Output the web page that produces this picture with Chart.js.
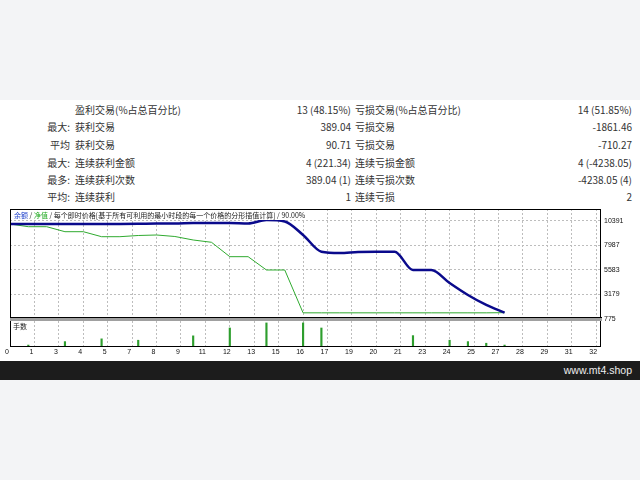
<!DOCTYPE html>
<html>
<head>
<meta charset="utf-8">
<script src="https://cdn.jsdelivr.net/npm/chart.js@4.4.0/dist/chart.umd.min.js"></script>
<style>
body { margin:0; width:640px; height:480px; background:#f3f4f6; position:relative; overflow:hidden; font-family:"Noto Sans CJK SC", "Noto Sans", sans-serif; }
#panel { position:absolute; left:0; top:100px; width:640px; height:261px; background:#fff; }
#footer { position:absolute; left:0; top:361px; width:640px; height:19px; background:#1c1c1c; }
#footer span { position:absolute; right:8px; top:3px; color:#eee; font-size:10.5px; font-family:"Liberation Sans", sans-serif; }
.cell { position:absolute; font-size:10px; color:#333; line-height:14px; white-space:nowrap; }
#chart-wrap { position:absolute; left:0; top:100px; width:640px; height:161px; }
#plot-title { position:absolute; left:14px; top:110px; font-size:7px; line-height:10px; color:#222; white-space:nowrap; background:#fff; }
#vol-title { position:absolute; left:13px; top:221px; font-size:7px; line-height:10px; color:#222; }
</style>
</head>
<body>
<div id="panel">
  <div id="stats"></div>
  <div id="chart-wrap"><canvas id="chart" width="640" height="161"></canvas></div>
  <div id="plot-title"><span style="color:#2244cc">余额</span> / <span style="color:#22aa22">净值</span> / 每个即时价格[基于所有可利用的最小时段的每一个价格的分形插值计算] / 90.00%</div>
  <div id="vol-title">手数</div>
</div>
<div id="footer"><span>www.mt4.shop</span></div>
<script>
// stats table
const statPrefix = ["", "最大:", "平均", "最大:", "最多:", "平均:"];
const statWinLabel = ["盈利交易(%占总百分比)", "获利交易", "获利交易", "连续获利金额", "连续获利次数", "连续获利"];
const statWinValue = ["13 (48.15%)", "389.04", "90.71", "4 (221.34)", "389.04 (1)", "1"];
const statLossLabel = ["亏损交易(%占总百分比)", "亏损交易", "亏损交易", "连续亏损金额", "连续亏损次数", "连续亏损"];
const statLossValue = ["14 (51.85%)", "-1861.46", "-710.27", "4 (-4238.05)", "-4238.05 (4)", "2"];

// chart data
const tradeNo = [0, 1, 2, 3, 4, 5, 6, 7, 8, 9, 10, 11, 12, 13, 14, 15, 16, 17, 18, 19, 20, 21, 22, 23, 24, 25, 26, 27];
const balance = [10097, 10097, 10097, 10097, 10097, 10097, 10097, 10110, 10146, 10146, 10195, 10195, 10195, 10146, 10489, 10342, 9018, 7379, 7252, 7350, 7379, 7379, 5584, 5584, 4309, 3132, 2151, 1395];
const equity = [10097, 9832, 9832, 9341, 9341, 8851, 8851, 8969, 9018, 8870, 8527, 8301, 6889, 6889, 5584, 5584, 1380, 1380, 1380, 1380, 1380, 1380, 1380, 1380, 1380, 1380, 1380, 1395];
const volumeTrades = [1, 3, 5, 7, 10, 12, 14, 16, 17, 22, 24, 25, 26, 27];
const volumeLots = [0.04, 0.19, 0.31, 0.25, 0.44, 0.78, 1.0, 1.0, 0.78, 0.45, 0.25, 0.19, 0.12, 0.04];
const yTicks = [775, 3179, 5583, 7987, 10391];
const xTickLabels = ["0", "1", "3", "4", "5", "7", "8", "9", "11", "12", "13", "15", "16", "17", "19", "20", "21", "23", "24", "25", "27", "28", "29", "31", "32"];

// build stats rows
const stats = document.getElementById("stats");
const rowY = [110, 127, 145, 163, 180, 197];
for (let i = 0; i < statPrefix.length; i++) {
    const top = rowY[i] - 100 - 7;
    stats.innerHTML += `
        <div class="cell" style="left:0;width:70px;text-align:right;top:${top}px">${statPrefix[i]}</div>
        <div class="cell" style="left:75px;top:${top}px">${statWinLabel[i]}</div>
        <div class="cell" style="left:0;width:351px;text-align:right;top:${top}px">${statWinValue[i]}</div>
        <div class="cell" style="left:355px;top:${top}px">${statLossLabel[i]}</div>
        <div class="cell" style="left:0;width:632px;text-align:right;top:${top}px">${statLossValue[i]}</div>
    `;
}

// frame and separator between panels
const framePlugin = {
    id: "frame",
    afterDraw(chart) {
        const ctx = chart.ctx;
        const a = chart.chartArea;
        const sep = chart.scales.y.bottom;
        ctx.save();
        ctx.strokeStyle = "#000";
        ctx.lineWidth = 1;
        ctx.strokeRect(a.left + 0.5, a.top + 0.5, a.right - a.left, a.bottom - a.top);
        ctx.fillStyle = "#a0a0a0";
        ctx.fillRect(a.left, sep - 1, a.right - a.left + 2, 3);
        ctx.beginPath();
        ctx.moveTo(a.left, sep - 1.5);
        ctx.lineTo(a.right + 2, sep - 1.5);
        ctx.stroke();
        ctx.restore();
    }
};

const tickFont = { family: "Liberation Sans", size: 7 };

new Chart(document.getElementById("chart"), {
    type: "line",
    data: {
        datasets: [
            {
                label: "余额",
                data: tradeNo.map((t, i) => ({ x: t, y: balance[i] })),
                borderColor: "#0a0a8c",
                borderWidth: 2.5,
                pointRadius: 0,
                cubicInterpolationMode: "monotone",
                yAxisID: "y"
            },
            {
                label: "净值",
                data: tradeNo.map((t, i) => ({ x: t, y: equity[i] })),
                borderColor: "#2faa2f",
                borderWidth: 1,
                pointRadius: 0,
                tension: 0,
                yAxisID: "y"
            },
            {
                type: "bar",
                label: "手数",
                data: volumeTrades.map((t, i) => ({ x: t, y: volumeLots[i] })),
                backgroundColor: "#2e9e2e",
                barThickness: 1.5,
                yAxisID: "yv"
            }
        ]
    },
    options: {
        responsive: false,
        animation: false,
        plugins: { legend: { display: false }, tooltip: { enabled: false } },
        layout: { padding: { left: 10, top: 9, right: 0, bottom: 0 } },
        scales: {
            x: {
                type: "linear",
                min: 0,
                max: 32.21,
                offset: false,
                grid: { color: "#bdbdbd", lineWidth: 1, drawTicks: false, offset: false },
                border: { display: false, dash: [2, 2] },
                afterBuildTicks: (scale) => {
                    scale.ticks = xTickLabels.map((_, i) => ({ value: i * 4 / 3 }));
                },
                afterFit: (scale) => { scale.height = 15; },
                ticks: {
                    autoSkip: false,
                    maxRotation: 0,
                    align: "center",
                    labelOffset: -3,
                    padding: 2,
                    color: "#111",
                    font: tickFont,
                    callback: (value, index) => xTickLabels[index]
                }
            },
            y: {
                type: "linear",
                position: "right",
                stack: "panels",
                stackWeight: 110,
                min: 775,
                max: 11568,
                grid: { color: "#bdbdbd", lineWidth: 1, drawTicks: false },
                border: { display: false, dash: [2, 2] },
                afterBuildTicks: (scale) => {
                    scale.ticks = yTicks.map(v => ({ value: v }));
                },
                afterFit: (scale) => { scale.width = 40; },
                ticks: { padding: 4, color: "#111", font: tickFont, callback: (value) => String(value) }
            },
            yv: {
                type: "linear",
                position: "right",
                stack: "panels",
                stackWeight: 27,
                min: 0,
                max: 1.17,
                grid: { display: false },
                border: { display: false },
                ticks: { display: false },
                afterFit: (scale) => { scale.width = 40; }
            }
        }
    },
    plugins: [framePlugin]
});
</script>
</body>
</html>
